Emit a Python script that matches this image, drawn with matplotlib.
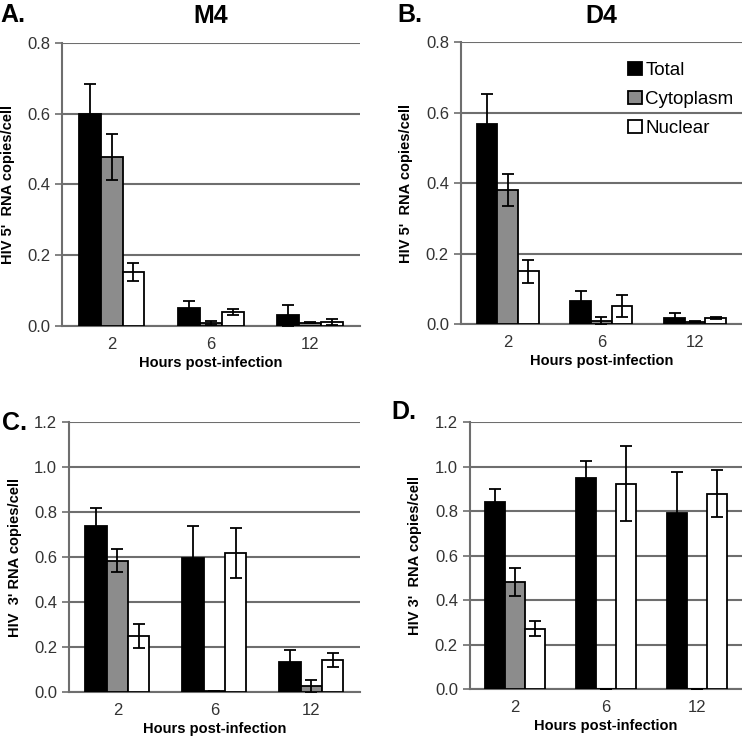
import numpy as np
import matplotlib.pyplot as plt

plt.rcParams['font.family'] = ['Liberation Sans', 'DejaVu Sans']

# data
hours = ['2', '6', '12']
series = ['Total', 'Cytoplasm', 'Nuclear']
colors = ['black', '#8c8c8c', 'white']

# A. M4, 5' RNA
a_total = [0.600, 0.052, 0.030]
a_total_err = [0.085, 0.017, 0.029]
a_cyto = [0.477, 0.008, 0.009]
a_cyto_err = [0.065, 0.005, 0.002]
a_nuc = [0.153, 0.039, 0.011]
a_nuc_err = [0.026, 0.009, 0.008]

# B. D4, 5' RNA
b_total = [0.568, 0.064, 0.016]
b_total_err = [0.085, 0.030, 0.014]
b_cyto = [0.381, 0.009, 0.007]
b_cyto_err = [0.045, 0.011, 0.002]
b_nuc = [0.150, 0.051, 0.016]
b_nuc_err = [0.033, 0.030, 0.003]

# C. M4, 3' RNA
c_total = [0.739, 0.597, 0.132]
c_total_err = [0.080, 0.142, 0.056]
c_cyto = [0.584, 0.003, 0.025]
c_cyto_err = [0.052, 0.0, 0.030]
c_nuc = [0.250, 0.619, 0.142]
c_nuc_err = [0.053, 0.110, 0.030]

# D. D4, 3' RNA
d_total = [0.840, 0.949, 0.792]
d_total_err = [0.061, 0.076, 0.186]
d_cyto = [0.480, 0.002, 0.002]
d_cyto_err = [0.062, 0.0, 0.0]
d_nuc = [0.271, 0.924, 0.879]
d_nuc_err = [0.034, 0.168, 0.105]

fig = plt.figure(figsize=(7.42, 7.39), dpi=100)

panels = [
    ([0.0836, 0.559, 0.401, 0.383], (a_total, a_cyto, a_nuc), (a_total_err, a_cyto_err, a_nuc_err),
     0.8, "HIV 5'  RNA copies/cell"),
    ([0.621, 0.5616, 0.379, 0.381], (b_total, b_cyto, b_nuc), (b_total_err, b_cyto_err, b_nuc_err),
     0.8, "HIV 5'  RNA copies/cell"),
    ([0.093, 0.0636, 0.392, 0.365], (c_total, c_cyto, c_nuc), (c_total_err, c_cyto_err, c_nuc_err),
     1.2, "HIV  3' RNA copies/cell"),
    ([0.633, 0.0677, 0.367, 0.361], (d_total, d_cyto, d_nuc), (d_total_err, d_cyto_err, d_nuc_err),
     1.2, "HIV 3'  RNA copies/cell"),
]

grid_col = '#6e6e6e'
x = np.arange(len(hours))
w = 0.22
axes = []
for rect, vals, errs, ymax, ylab in panels:
    ax = fig.add_axes(rect)
    axes.append(ax)
    for i in range(3):
        ax.bar(x + (i - 1) * w, vals[i], w, color=colors[i], edgecolor='black',
               linewidth=1.3, label=series[i], zorder=3)
        ax.errorbar(x + (i - 1) * w, vals[i], yerr=errs[i], fmt='none', ecolor='black',
                    elinewidth=1.3, capsize=4.5, capthick=1.3, zorder=4)
    ax.set_xlim(-0.5, 2.5)
    ax.set_ylim(0, ymax)
    ax.set_yticks(np.arange(0, ymax + 0.01, 0.2))
    ax.yaxis.set_major_formatter(plt.FormatStrFormatter('%.1f'))
    ax.set_xticks(x)
    ax.set_xticklabels(hours)
    ax.yaxis.grid(True, color=grid_col, linewidth=1.5, zorder=0)
    ax.set_axisbelow(True)
    for s in ['top', 'right']:
        ax.spines[s].set_visible(False)
    ax.spines['left'].set_color(grid_col)
    ax.spines['left'].set_linewidth(1.5)
    ax.spines['bottom'].set_color(grid_col)
    ax.spines['bottom'].set_linewidth(1.5)
    ax.tick_params(axis='y', length=5, color=grid_col, width=1.2, labelsize=12, labelcolor='#333333')
    ax.tick_params(axis='x', length=0, labelsize=12, labelcolor='#333333', pad=8)
    ax.set_xlabel('Hours post-infection', fontsize=10.5, fontweight='bold', labelpad=3)
    ax.set_ylabel(ylab, fontsize=10.5, fontweight='bold', labelpad=9)

axes[0].set_title('M4', fontsize=18, fontweight='bold', pad=14)
axes[1].set_title('D4', fontsize=18, fontweight='bold', pad=14)
fig.text(0.0, 0.98, 'A.', fontsize=18, fontweight='bold', va='center')
fig.text(0.535, 0.98, 'B.', fontsize=18, fontweight='bold', va='center')
fig.text(0.003, 0.4276, 'C.', fontsize=18, fontweight='bold', va='center')
fig.text(0.528, 0.442, 'D.', fontsize=18, fontweight='bold', va='center')

axes[1].legend(loc='upper left', bbox_to_anchor=(0.56, 0.965), frameon=False, fontsize=13.5,
               handlelength=0.75, handleheight=0.75, handletextpad=0.2, labelspacing=0.62,
               borderpad=0)

fig.savefig('out.png', dpi=100)
